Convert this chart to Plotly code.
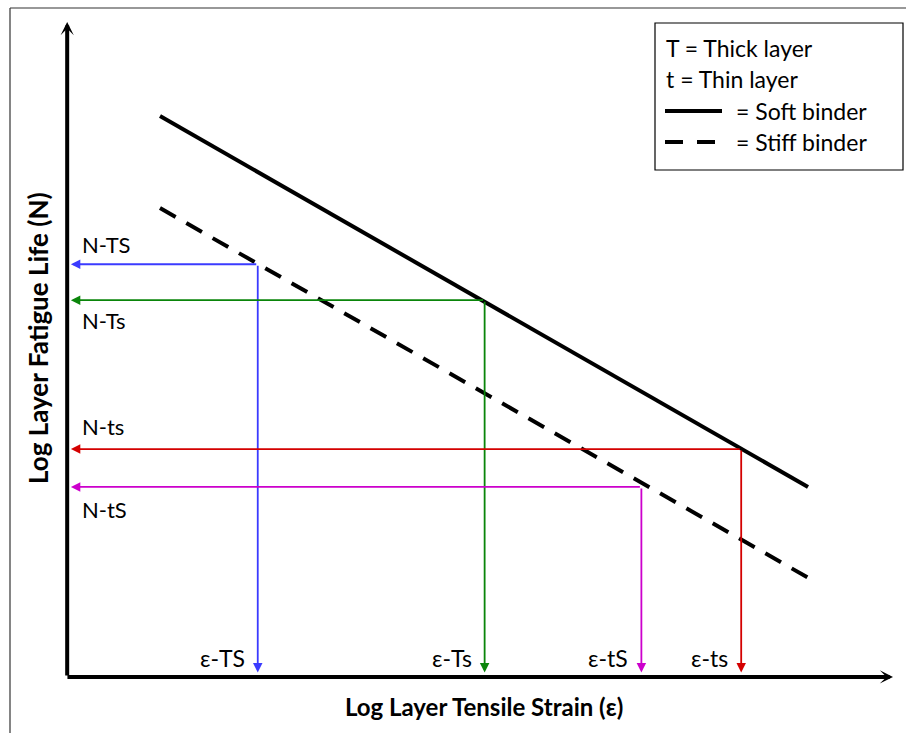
import plotly.graph_objects as go

# Schematic fatigue curves (log strain vs log fatigue life), arbitrary 0-100 units
strain_ends = [11.15, 89.7]
soft_life = [85.6, 28.8]     # soft binder (solid)
stiff_life = [71.5, 14.9]    # stiff binder (dashed)

# Design cases: strain read on x-axis, life read on y-axis
case_tags = ["TS", "Ts", "tS", "ts"]
case_strain = [23.0, 50.5, 69.5, 81.6]
case_life = [62.9, 57.4, 28.8, 34.6]
case_colors = ["#3b3bff", "#0a850a", "#cc00cc", "#d40000"]

legend_lines = ["T = Thick layer", "t = Thin layer", "= Soft binder", "= Stiff binder"]

# Label placement for the life labels: (anchor, pixel shift)
life_label_pos = [("bottom", 4), ("top", -5), ("top", -7), ("bottom", 7)]

FONT = "Lato"
W, H = 906, 733
PX_X, PX_Y = 8.25, 6.53     # pixels per data unit
X0, Y0 = 68, 675            # pixel location of the origin

fig = go.Figure()

fig.add_trace(go.Scatter(x=strain_ends, y=soft_life, mode="lines",
                         line=dict(color="black", width=4), hoverinfo="skip"))
fig.add_trace(go.Scatter(x=strain_ends, y=stiff_life, mode="lines",
                         line=dict(color="black", width=4, dash="18px,12.3px"),
                         hoverinfo="skip"))

ann = []


def arrow(x0, y0, x1, y1, color, width, head, size):
    ann.append(dict(x=x1, y=y1, ax=x0, ay=y0, xref="x", yref="y", axref="x", ayref="y",
                    text="", showarrow=True, arrowhead=head, arrowsize=size,
                    arrowwidth=width, arrowcolor=color, standoff=0, startstandoff=0))


# Axes with arrowheads
arrow(-0.25, -0.3, 100, -0.3, "black", 4, 3, 0.55)
arrow(-0.1, -0.3, -0.1, 100, "black", 4, 3, 0.55)

for tag, xs, yl, col, (anc, dy) in zip(case_tags, case_strain, case_life,
                                       case_colors, life_label_pos):
    arrow(xs, yl, 0.35, yl, col, 1.8, 2, 1.05)
    arrow(xs, yl, xs, 0.4, col, 1.8, 2, 1.05)
    ann.append(dict(x=1.5, y=yl, xref="x", yref="y", text="N-" + tag, showarrow=False,
                    xanchor="left", yanchor=anc, yshift=dy,
                    font=dict(family=FONT, size=22, color="black")))
    ann.append(dict(x=xs, y=0, xref="x", yref="y", text="ε-" + tag, showarrow=False,
                    xanchor="right", yanchor="bottom", xshift=-11, yshift=1,
                    font=dict(family=FONT, size=23, color="black")))


def dx(px):
    return (px - X0) / PX_X


def dy_(py):
    return (Y0 - py) / PX_Y


# Axis titles
ann.append(dict(x=dx(484), y=dy_(706), xref="x", yref="y",
                text="<b>Log Layer Tensile Strain (ε)</b>", showarrow=False,
                font=dict(family=FONT, size=24, color="black")))
ann.append(dict(x=dx(38), y=dy_(338), xref="x", yref="y",
                text="<b>Log Layer Fatigue Life (N)</b>", showarrow=False, textangle=-90,
                font=dict(family=FONT, size=26, color="black")))

shapes = []
# Frame around the whole figure (left and top edges)
shapes.append(dict(type="line", x0=dx(10), x1=dx(W + 5), y0=dy_(8), y1=dy_(8),
                   line=dict(color="#333333", width=1.2)))
shapes.append(dict(type="line", x0=dx(10), x1=dx(10), y0=dy_(8), y1=dy_(H + 5),
                   line=dict(color="#333333", width=1.2)))

# Key box
shapes.append(dict(type="rect", x0=dx(655), x1=dx(903), y0=dy_(23), y1=dy_(170),
                   line=dict(color="black", width=1.2), fillcolor="white", layer="above"))
key_rows = [48, 79, 111, 142]
for i, (txt, py) in enumerate(zip(legend_lines, key_rows)):
    xpx = 664 if i < 2 else 734
    ann.append(dict(x=dx(xpx), y=dy_(py), xref="x", yref="y", text=txt, showarrow=False,
                    xanchor="left", yanchor="middle",
                    font=dict(family=FONT, size=23, color="black")))
shapes.append(dict(type="line", x0=dx(665), x1=dx(722), y0=dy_(key_rows[2]),
                   y1=dy_(key_rows[2]), line=dict(color="black", width=4), layer="above"))
shapes.append(dict(type="line", x0=dx(665), x1=dx(715), y0=dy_(key_rows[3]),
                   y1=dy_(key_rows[3]),
                   line=dict(color="black", width=4, dash="18px,14px"), layer="above"))

fig.update_layout(
    width=W, height=H, margin=dict(l=0, r=0, t=0, b=0),
    paper_bgcolor="white", plot_bgcolor="white", showlegend=False,
    xaxis=dict(range=[-X0 / PX_X, (W - X0) / PX_X], visible=False, fixedrange=True),
    yaxis=dict(range=[-(H - Y0) / PX_Y, Y0 / PX_Y], visible=False, fixedrange=True),
    annotations=ann, shapes=shapes,
)

fig.write_html("out.html")
